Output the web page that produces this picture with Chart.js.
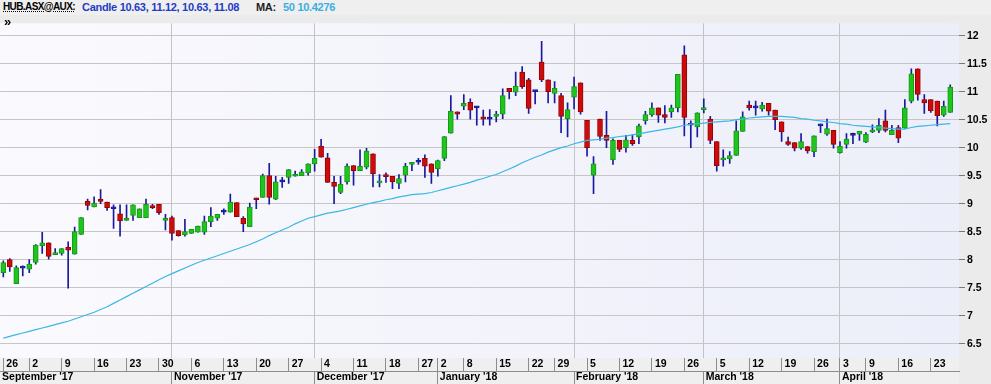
<!DOCTYPE html>
<html><head><meta charset="utf-8">
<script src="https://cdn.jsdelivr.net/npm/chart.js@4/dist/chart.umd.min.js"></script>
<style>
html,body{margin:0;padding:0;background:#ebebeb;}
#wrap{position:relative;width:991px;height:384px;overflow:hidden;background:#ebebeb;}
#hdr{position:absolute;left:0;top:0;width:991px;height:15px;background:#efefef;font:bold 11px "Liberation Sans",Arial,sans-serif;letter-spacing:-0.3px;white-space:nowrap;}
#hdr span{position:absolute;top:1px;line-height:12px;}
#cv{position:absolute;left:0;top:15px;}
#arrow{position:absolute;left:4px;top:15px;font:bold 13px "Liberation Sans",Arial,sans-serif;color:#000;line-height:14px;}
</style></head>
<body><div id="wrap">
<div id="hdr">
<span style="left:3px;color:#000;font-size:10px;letter-spacing:-0.6px;text-decoration:underline dotted;">HUB.ASX@AUX:</span>
<span style="left:82px;color:#1f3cc4;">Candle 10.63, 11.12, 10.63, 11.08</span>
<span style="left:256px;color:#222;">MA:</span>
<span style="left:283px;color:#3aaee0;">50 10.4276</span>
</div>
<canvas id="cv" width="991" height="369"></canvas>
<div id="arrow">»</div>
</div>
<script>
// ---- data (one entry per trading day) ----
const openV = [
7.77,8.00,7.57,7.85,7.83,7.95,8.25,8.30,8.09,8.11,
8.22,8.10,8.45,9.04,8.94,9.08,9.03,8.91,8.82,8.70,
8.79,8.75,8.75,8.96,8.99,8.70,8.75,8.52,8.44,8.47,
8.49,8.49,8.68,8.74,8.85,8.85,9.02,8.74,8.59,9.10,
9.11,9.50,9.08,9.39,9.47,9.49,9.50,9.55,9.71,10.03,
9.82,9.38,9.20,9.39,9.68,9.59,9.65,9.89,9.37,9.52,
9.49,9.36,9.51,9.70,9.74,9.81,9.71,9.62,9.81,10.26,
10.64,10.74,10.81,10.71,10.55,10.51,10.56,10.60,11.06,10.99,
11.35,11.21,11.00,11.53,11.21,10.97,10.93,10.52,10.90,11.16,
10.49,9.51,10.51,10.22,9.78,10.13,10.00,10.13,10.19,10.48,
10.59,10.71,10.59,10.64,10.71,11.66,10.40,10.37,10.68,10.51,
10.11,9.78,9.80,9.86,10.29,10.76,10.71,10.69,10.79,10.67,
10.46,10.11,10.09,9.99,10.02,9.93,10.39,10.24,10.31,9.91,
10.06,10.22,10.24,10.10,10.28,10.31,10.48,10.23,10.36,10.35,
10.83,11.41,10.86,10.86,10.83,10.58,10.63];
const highV = [
7.98,8.02,7.89,7.89,8.00,8.27,8.49,8.30,8.20,8.20,
8.32,8.58,8.75,9.08,9.12,9.25,9.03,8.98,8.98,8.98,
8.98,8.91,9.08,8.99,8.99,8.81,8.78,8.52,8.72,8.54,
8.60,8.78,8.93,8.81,8.91,9.17,9.02,8.77,9.01,9.10,
9.53,9.72,9.49,9.47,9.61,9.58,9.61,9.71,9.97,10.15,
9.90,9.49,9.49,9.71,9.68,9.96,9.99,9.89,9.52,9.55,
9.49,9.52,9.72,9.74,9.81,9.87,9.71,9.78,10.20,10.93,
10.64,10.95,10.87,10.74,10.67,10.68,10.65,11.05,11.06,11.35,
11.45,11.24,11.02,11.90,11.21,11.18,10.97,10.80,11.26,11.16,
10.49,9.84,10.51,10.65,10.16,10.13,10.22,10.23,10.42,10.65,
10.80,10.71,10.75,10.76,11.31,11.82,10.48,10.62,10.87,10.56,
10.11,9.96,9.93,10.48,10.64,10.83,10.83,10.81,10.79,10.67,
10.46,10.19,10.09,10.25,10.02,10.21,10.42,10.51,10.31,10.11,
10.25,10.26,10.29,10.27,10.41,10.52,10.67,10.40,10.40,10.86,
11.41,11.41,10.95,10.86,10.83,10.83,11.12];
const lowV = [
7.69,7.79,7.57,7.71,7.77,7.92,8.11,8.01,8.09,8.08,
7.49,8.10,8.45,8.89,8.94,9.00,8.88,8.56,8.42,8.70,
8.70,8.75,8.75,8.91,8.81,8.53,8.35,8.42,8.42,8.47,
8.49,8.45,8.59,8.70,8.81,8.85,8.77,8.50,8.59,8.91,
9.11,8.99,9.07,9.29,9.36,9.49,9.50,9.51,9.58,9.83,
9.38,9.00,9.18,9.35,9.33,9.59,9.62,9.30,9.30,9.38,
9.27,9.27,9.39,9.59,9.70,9.47,9.36,9.49,9.77,10.26,
10.51,10.68,10.51,10.40,10.40,10.40,10.46,10.52,10.87,10.93,
11.06,10.61,10.78,11.18,10.80,10.80,10.27,10.19,10.69,10.60,
9.85,9.18,10.13,10.00,9.70,9.93,9.92,10.04,10.07,10.42,
10.56,10.45,10.44,10.54,10.64,10.21,10.00,10.19,10.62,10.07,
9.58,9.67,9.72,9.86,10.29,10.67,10.58,10.65,10.58,10.32,
10.11,10.04,9.94,9.97,9.90,9.84,10.27,10.22,9.99,9.90,
9.99,10.07,10.13,10.09,10.27,10.27,10.28,10.23,10.09,10.35,
10.80,10.85,10.61,10.63,10.39,10.56,10.63];
const closeV = [
7.95,7.87,7.86,7.85,7.92,8.26,8.30,8.06,8.12,8.20,
8.17,8.50,8.75,8.97,9.01,9.04,8.93,8.91,8.69,8.74,
8.98,8.91,8.99,8.93,8.84,8.74,8.47,8.43,8.50,8.54,
8.60,8.68,8.78,8.81,8.85,9.03,8.77,8.64,8.94,9.07,
9.50,9.11,9.39,9.39,9.61,9.52,9.57,9.71,9.81,9.83,
9.38,9.31,9.35,9.67,9.59,9.67,9.94,9.53,9.40,9.48,
9.39,9.45,9.67,9.74,9.74,9.67,9.56,9.77,10.20,10.65,
10.60,10.79,10.67,10.71,10.51,10.51,10.60,10.93,11.00,11.10,
11.09,10.70,11.00,11.21,11.00,11.06,10.56,10.68,11.09,10.64,
10.00,9.71,10.20,10.13,10.13,9.97,10.14,10.07,10.39,10.59,
10.71,10.58,10.54,10.71,11.31,10.54,10.40,10.62,10.71,10.13,
9.68,9.82,9.86,10.30,10.55,10.71,10.71,10.76,10.65,10.50,
10.28,10.06,9.99,10.11,9.94,10.21,10.39,10.34,10.06,10.03,
10.15,10.22,10.29,10.24,10.32,10.40,10.31,10.31,10.17,10.71,
11.32,10.95,10.80,10.66,10.57,10.74,11.08];
const ma50 = [
6.60,6.63,6.66,6.69,6.72,6.75,6.78,6.81,6.84,6.87,
6.90,6.94,6.98,7.02,7.06,7.11,7.16,7.22,7.28,7.34,
7.40,7.46,7.52,7.58,7.64,7.70,7.75,7.80,7.85,7.90,
7.95,7.99,8.03,8.07,8.11,8.15,8.19,8.23,8.27,8.32,
8.37,8.43,8.48,8.53,8.58,8.64,8.69,8.74,8.77,8.80,
8.83,8.85,8.87,8.90,8.93,8.96,8.99,9.02,9.04,9.07,
9.09,9.12,9.14,9.16,9.17,9.18,9.20,9.23,9.26,9.29,
9.32,9.35,9.38,9.42,9.45,9.49,9.52,9.57,9.62,9.67,
9.73,9.78,9.83,9.87,9.92,9.96,10.00,10.03,10.07,10.10,
10.13,10.14,10.15,10.17,10.18,10.20,10.21,10.23,10.25,10.27,
10.29,10.31,10.33,10.35,10.37,10.40,10.42,10.43,10.44,10.45,
10.46,10.47,10.48,10.50,10.51,10.53,10.54,10.55,10.56,10.56,
10.56,10.55,10.54,10.52,10.51,10.49,10.48,10.46,10.45,10.43,
10.42,10.40,10.39,10.38,10.37,10.36,10.35,10.34,10.33,10.33,
10.36,10.38,10.39,10.40,10.41,10.42,10.43];

// axis ticks (positions are trading-day indices)
const dayTickIdx = [0,4,9,14,19,24,29,34,39,44,49,54,59,64,67,71,76,81,85,90,95,100,105,110,115,120,125,129,133,138,143];
const dayLabels  = ['26','2','9','16','23','30','6','13','20','27','4','11','18','27','2','8','15','22','29','5','12','19','26','5','12','19','26','3','9','16','23'];
const monthTickIdx = [-0.5,26,48,67,88,108,129];
const monthLabels  = ["September '17","November '17","December '17","January '18","February '18","March '18","April '18"];
const monthGridHidden = [-0.5,67];
const yTicks = [6.5,7,7.5,8,8.5,9,9.5,10,10.5,11,11.5,12];

// ---- build ----
const idx = closeV.map((_, i) => i);
const UP = '#1fc41f', UPB = '#129a12', DN = '#cc0c0c', DNB = '#9a0000', DOJI = '#1a1a9e';
const bodyFill = idx.map(i => closeV[i] > openV[i] ? UP : (closeV[i] < openV[i] ? DN : DOJI));
const bodyBorder = idx.map(i => closeV[i] > openV[i] ? UPB : (closeV[i] < openV[i] ? DNB : DOJI));
const FONT = {family: '"Liberation Sans", Arial, sans-serif', size: 10.5, weight: 'bold'};

const bgPlugin = {
  id: 'plotbg',
  beforeDraw(c) {
    const {ctx, chartArea: a} = c;
    ctx.save();
    const g = ctx.createLinearGradient(a.left, 0, a.right, 0);
    g.addColorStop(0, '#fafafe');
    g.addColorStop(1, '#eceef9');
    ctx.fillStyle = g;
    ctx.fillRect(a.left, a.top, a.right - a.left, a.bottom - a.top);
    ctx.fillStyle = '#efefef';
    ctx.fillRect(a.left, a.bottom, a.right - a.left, c.height - a.bottom);
    ctx.restore();
  }
};

new Chart(document.getElementById('cv'), {
  type: 'bar',
  data: {
    datasets: [
      {type: 'line', label: 'MA 50', data: idx.map(i => ({x: i, y: ma50[i]})),
       borderColor: '#3cb6e6', borderWidth: 1.2, pointRadius: 0, tension: 0, order: 0, xAxisID: 'x', yAxisID: 'y'},
      {label: 'wick', data: idx.map(i => ({x: i, y: [lowV[i], highV[i]]})),
       backgroundColor: '#1a1a9e', borderWidth: 0, barThickness: 1, grouped: false, order: 2, xAxisID: 'x', yAxisID: 'y'},
      {label: 'body', data: idx.map(i => ({x: i, y: [openV[i], closeV[i]]})),
       backgroundColor: bodyFill, borderColor: bodyBorder, borderWidth: 1, borderSkipped: false,
       barThickness: 5, minBarLength: 2, grouped: false, order: 1, xAxisID: 'x', yAxisID: 'y'}
    ]
  },
  options: {
    responsive: false, animation: false, events: [],
    layout: {padding: 0, autoPadding: false},
    plugins: {legend: {display: false}, tooltip: {enabled: false}},
    scales: {
      x: {
        type: 'linear', position: 'bottom', weight: 0, min: -0.51, max: 147.35, offset: false,
        afterBuildTicks: s => { s.ticks = dayTickIdx.map(v => ({value: v})); },
        afterFit: s => { s.height = 13; },
        grid: {offset: false, drawOnChartArea: false, drawTicks: true, tickLength: 13, color: '#8c8c8c', tickColor: '#8c8c8c', lineWidth: 1},
        border: {display: false},
        ticks: {autoSkip: false, maxRotation: 0, minRotation: 0, align: 'start', padding: -13, labelOffset: 3,
                color: '#000', font: FONT,
                callback: v => { const k = dayTickIdx.indexOf(v); return k >= 0 ? dayLabels[k] : ''; }}
      },
      x2: {
        type: 'linear', position: 'bottom', weight: 1, min: -0.51, max: 147.35, offset: false,
        afterBuildTicks: s => { s.ticks = monthTickIdx.map(v => ({value: v})); },
        afterFit: s => { s.height = 13; },
        grid: {offset: false, drawOnChartArea: true, drawTicks: true, tickLength: 13, lineWidth: 1,
               color: ctx => (ctx.tick && monthGridHidden.includes(ctx.tick.value)) ? 'rgba(0,0,0,0)' : '#c4c4c4',
               tickColor: ctx => (ctx.tick && ctx.tick.value < 0) ? 'rgba(0,0,0,0)' : '#8c8c8c'},
        border: {display: true, color: '#8c8c8c', width: 1},
        ticks: {autoSkip: false, maxRotation: 0, minRotation: 0, align: 'start', padding: -13, labelOffset: 2,
                color: '#000', font: FONT,
                callback: v => { const k = monthTickIdx.indexOf(v); return k >= 0 ? monthLabels[k] : ''; }}
      },
      y: {
        type: 'linear', position: 'right', min: 6.244, max: 12.221,
        afterBuildTicks: s => { s.ticks = yTicks.map(v => ({value: v})); },
        afterFit: s => { s.width = 32; },
        grid: {color: '#c6c6c6', lineWidth: 1, drawTicks: true, tickLength: 6, tickColor: '#777'},
        border: {display: false},
        ticks: {padding: 2, color: '#000', font: FONT, callback: v => String(v)}
      }
    }
  },
  plugins: [bgPlugin]
});
</script>
</body></html>
